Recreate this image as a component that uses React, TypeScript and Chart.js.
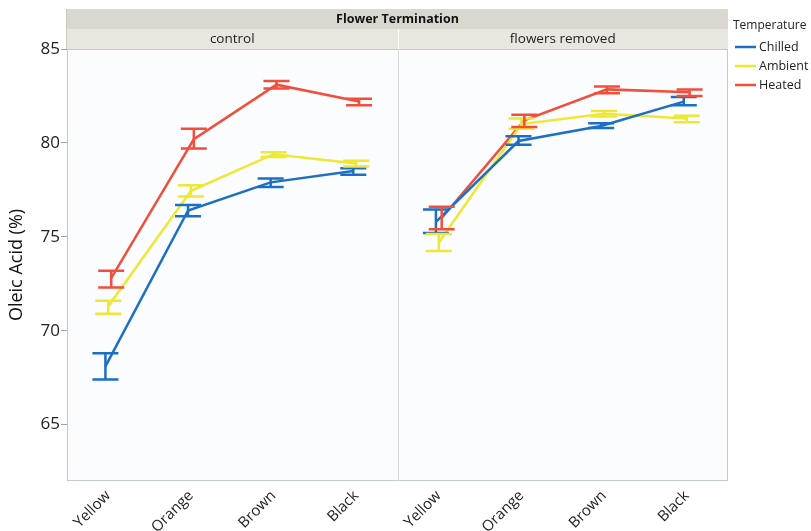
import { useEffect, useRef } from "react";
import { Chart, registerables } from "chart.js";
Chart.register(...registerables);

const stages = ["Yellow", "Orange", "Brown", "Black"];
const facets = ["control", "flowers removed"];
const facetTitle = "Flower Termination";
const legendTitle = "Temperature";
const yTitle = "Oleic Acid (%)";
const series = ["Chilled", "Ambient", "Heated"];
const colors = ["#1d6fc4", "#ede833", "#f14e3d"];
const yTicks = [65, 70, 75, 80, 85];
const dodge = [-0.035, 0, 0.035];

// values: 4 stages of "control" then 4 stages of "flowers removed"
const chilledMean = [68.1, 76.4, 77.9, 78.5, 75.8, 80.1, 80.9, 82.2];
const chilledLow = [67.4, 76.1, 77.65, 78.3, 75.2, 79.9, 80.8, 82.0];
const chilledHigh = [68.8, 76.7, 78.1, 78.65, 76.45, 80.35, 81.05, 82.45];
const ambientMean = [71.3, 77.45, 79.4, 78.9, 74.7, 81.0, 81.55, 81.3];
const ambientLow = [70.9, 77.15, 79.25, 78.75, 74.25, 80.75, 81.4, 81.1];
const ambientHigh = [71.6, 77.75, 79.5, 79.05, 75.15, 81.3, 81.7, 81.45];
const heatedMean = [72.8, 80.2, 83.1, 82.2, 76.0, 81.2, 82.85, 82.7];
const heatedLow = [72.3, 79.7, 82.9, 82.0, 75.4, 80.85, 82.65, 82.5];
const heatedHigh = [73.2, 80.75, 83.3, 82.35, 76.6, 81.5, 83.0, 82.85];

const means = [chilledMean, ambientMean, heatedMean];
const lows = [chilledLow, ambientLow, heatedLow];
const highs = [chilledHigh, ambientHigh, heatedHigh];

const FONT = "'Open Sans', 'Noto Sans', sans-serif";

function buildPoints(s: number) {
  const pts: { x: number; y: number | null }[] = [];
  means[s].forEach((v, i) => {
    if (i === stages.length) pts.push({ x: stages.length - 0.5, y: null });
    pts.push({ x: i + dodge[s], y: v });
  });
  return pts;
}

const decorPlugin = {
  id: "decor",
  beforeDraw(chart: any) {
    const { ctx, chartArea: a } = chart;
    ctx.save();
    ctx.fillStyle = "#fbfcfe";
    ctx.fillRect(a.left, a.top, a.right - a.left, a.bottom - a.top);
    ctx.restore();
  },
  afterDraw(chart: any) {
    const { ctx, chartArea: a, scales } = chart;
    const xs = scales.x;
    const mid = xs.getPixelForValue(stages.length - 0.5);
    ctx.save();
    // frame
    ctx.strokeStyle = "#c2c9d4";
    ctx.lineWidth = 1;
    ctx.strokeRect(a.left + 0.5, a.top + 0.5, a.right - a.left - 1, a.bottom - a.top - 1);
    ctx.strokeStyle = "#d6dae0";
    ctx.beginPath();
    ctx.moveTo(Math.round(mid) + 0.5, a.top);
    ctx.lineTo(Math.round(mid) + 0.5, a.bottom);
    ctx.stroke();
    // headers
    const h1 = 20, h2 = 20;
    const topY = a.top - h1 - h2;
    ctx.fillStyle = "#dad8ce";
    ctx.fillRect(a.left - 1, topY, a.right - a.left + 1, h1);
    ctx.fillStyle = "#e7e6df";
    ctx.fillRect(a.left - 1, topY + h1, a.right - a.left + 1, h2);
    ctx.strokeStyle = "#ffffff";
    ctx.beginPath();
    ctx.moveTo(Math.round(mid) + 0.5, topY + h1);
    ctx.lineTo(Math.round(mid) + 0.5, a.top);
    ctx.stroke();
    ctx.strokeStyle = "#c9c8c0";
    ctx.beginPath();
    ctx.moveTo(a.left - 0.5, topY);
    ctx.lineTo(a.left - 0.5, a.top);
    ctx.stroke();
    ctx.fillStyle = "#111";
    ctx.textAlign = "center";
    ctx.textBaseline = "middle";
    ctx.font = `bold 12.5px ${FONT}`;
    ctx.fillText(facetTitle, (a.left + a.right) / 2, topY + h1 / 2 + 0.5);
    ctx.font = `13.5px ${FONT}`;
    ctx.fillStyle = "#222";
    ctx.fillText(facets[0], (a.left + mid) / 2, topY + h1 + h2 / 2 + 0.5);
    ctx.fillText(facets[1], (mid + a.right) / 2, topY + h1 + h2 / 2 + 0.5);
    // legend
    const lx = a.right + 5;
    ctx.textAlign = "left";
    ctx.fillStyle = "#222";
    ctx.font = `12px ${FONT}`;
    ctx.fillText(legendTitle, lx, 26);
    ctx.font = `12.5px ${FONT}`;
    chart.data.datasets.forEach((ds: any, i: number) => {
      const y = 47 + i * 19;
      ctx.strokeStyle = ds.borderColor;
      ctx.lineWidth = 2.5;
      ctx.beginPath();
      ctx.moveTo(lx + 2, y);
      ctx.lineTo(lx + 23, y);
      ctx.stroke();
      ctx.fillStyle = "#222";
      ctx.fillText(ds.label, lx + 26, y);
    });
    ctx.restore();
  },
  afterDatasetsDraw(chart: any) {
    const { ctx, scales } = chart;
    const xs = scales.x, ys = scales.y;
    ctx.save();
    ctx.lineWidth = 2.5;
    ctx.lineCap = "butt";
    const cap = 13;
    means.forEach((arr, s) => {
      ctx.strokeStyle = colors[s];
      arr.forEach((_, i) => {
        const x = xs.getPixelForValue(i + dodge[s]);
        const yl = ys.getPixelForValue(lows[s][i]);
        const yh = ys.getPixelForValue(highs[s][i]);
        ctx.beginPath();
        ctx.moveTo(x, yl);
        ctx.lineTo(x, yh);
        ctx.moveTo(x - cap, yl);
        ctx.lineTo(x + cap, yl);
        ctx.moveTo(x - cap, yh);
        ctx.lineTo(x + cap, yh);
        ctx.stroke();
      });
    });
    ctx.restore();
  },
};

export default function App() {
  const ref = useRef<HTMLCanvasElement | null>(null);
  useEffect(() => {
    if (!ref.current) return;
    const xTickValues = [...stages, ...stages].map((_, i) => i);
    const chart = new Chart(ref.current, {
      type: "line",
      data: {
        datasets: series.map((name, s) => ({
          label: name,
          data: buildPoints(s) as any,
          borderColor: colors[s],
          backgroundColor: colors[s],
          borderWidth: 2.5,
          pointRadius: 0,
          spanGaps: false,
          tension: 0,
        })),
      },
      options: {
        animation: false,
        responsive: true,
        maintainAspectRatio: false,
        layout: { padding: { top: 49, right: 83, left: 0, bottom: 0 } },
        plugins: { legend: { display: false }, tooltip: { enabled: false } },
        scales: {
          x: {
            type: "linear",
            min: -0.5,
            max: stages.length * 2 - 0.5,
            afterBuildTicks: (s: any) => {
              s.ticks = xTickValues.map((v) => ({ value: v }));
            },
            afterFit: (s: any) => {
              s.height = 50;
            },
            grid: { display: false, drawTicks: false },
            border: { display: false },
            ticks: {
              autoSkip: false,
              minRotation: 45,
              maxRotation: 45,
              padding: 6,
              color: "#222",
              font: { family: FONT, size: 15 },
              callback: (v: any) => stages[Number(v) % stages.length],
            },
          },
          y: {
            min: 62,
            max: 85,
            afterBuildTicks: (s: any) => {
              s.ticks = yTicks.map((v) => ({ value: v }));
            },
            afterFit: (s: any) => {
              s.width = 67;
            },
            grid: { drawOnChartArea: false, drawTicks: true, tickLength: 6, color: "#9aa3ae" },
            border: { display: false },
            ticks: {
              padding: 1,
              color: "#222",
              font: { family: FONT, size: 17 },
            },
            title: {
              display: true,
              text: yTitle,
              color: "#111",
              font: { family: FONT, size: 18 },
              padding: { top: 6, bottom: 0 },
            },
          },
        },
      },
      plugins: [decorPlugin],
    });
    return () => chart.destroy();
  }, []);
  return (
    <div style={{ position: "fixed", left: 0, top: 0, width: 811, height: 531, background: "#fff" }}>
      <canvas ref={ref} />
    </div>
  );
}
